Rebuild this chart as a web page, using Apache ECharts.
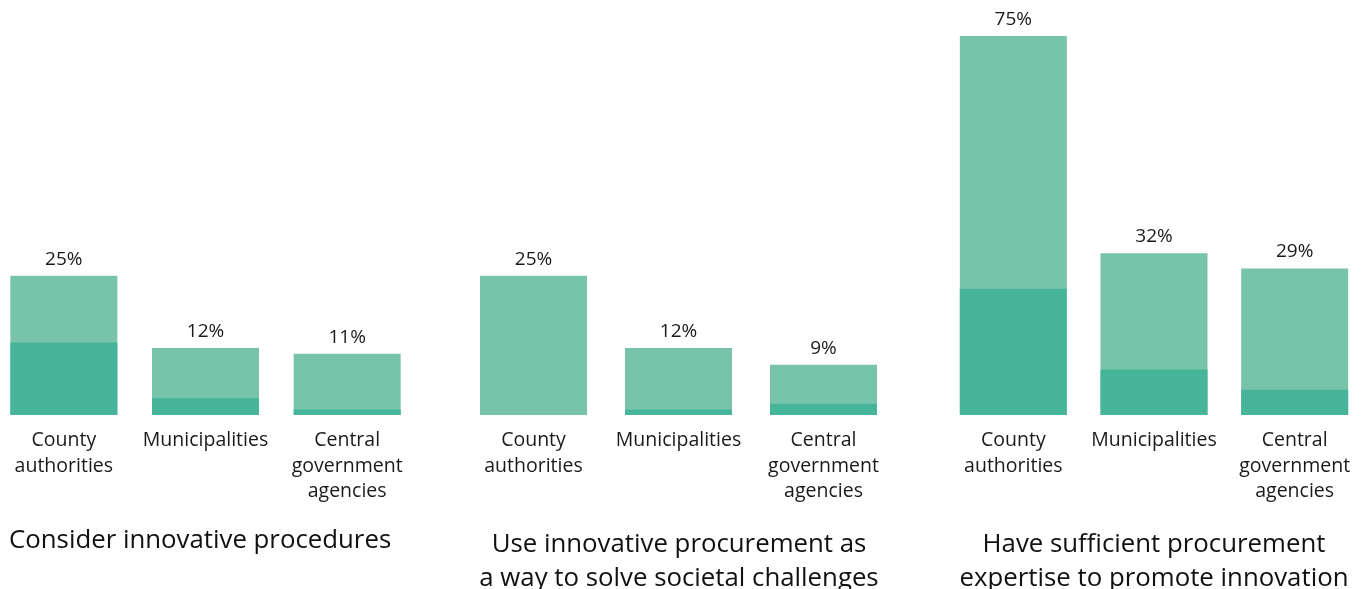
<!DOCTYPE html>
<html>
<head>
<meta charset="utf-8">
<script src="https://cdn.jsdelivr.net/npm/echarts@6/dist/echarts.min.js"></script>
<style>
  html, body { margin: 0; padding: 0; background: #ffffff; }
  #chart { width: 1363px; height: 589px; }
</style>
</head>
<body>
<div id="chart"></div>
<script>
// Respondent groups shown under every panel
const categories = ['County\nauthorities', 'Municipalities', 'Central\ngovernment\nagencies'];

// Panel headings
const panelTitles = [
  'Consider innovative procedures',
  'Use innovative procurement as\na way to solve societal challenges',
  'Have sufficient procurement\nexpertise to promote innovation'
];

// Total share answering yes (%), per panel
const totalConsider = [25, 12, 11];
const totalSocietal = [25, 12, 9];
const totalExpertise = [75, 32, 29];

// Share answering to a large extent (%), per panel
const largeConsider = [13, 3, 1];
const largeSocietal = [0, 1, 2];
const largeExpertise = [25, 9, 5];

const totals = [totalConsider, totalSocietal, totalExpertise];
const larges = [largeConsider, largeSocietal, largeExpertise];
const axisMax = [68, 68, 75];

const LIGHT = '#77c4ab';
const DARK = '#46b599';
const FONT = 'Open Sans';

const gridBoxes = [
  { left: -7, width: 425 },
  { left: 461, width: 435 },
  { left: 943, width: 422 }
];

const grid = gridBoxes.map(b => ({
  left: b.left,
  width: b.width,
  top: 36,
  bottom: 174,
  containLabel: false,
  outerBoundsMode: 'none'
}));

const xAxis = gridBoxes.map((b, i) => ({
  type: 'category',
  gridIndex: i,
  data: categories,
  axisLine: { show: false },
  axisTick: { show: false },
  axisLabel: {
    color: '#1a1a1a',
    fontFamily: FONT,
    fontSize: 19.5,
    lineHeight: 25.5,
    margin: 13,
    interval: 0
  }
}));

const yAxis = gridBoxes.map((b, i) => ({
  type: 'value',
  gridIndex: i,
  min: 0,
  max: axisMax[i],
  show: false,
  splitLine: { show: false }
}));

const series = [];
totals.forEach((vals, i) => {
  series.push({
    type: 'bar',
    xAxisIndex: i,
    yAxisIndex: i,
    data: vals,
    barWidth: 107,
    barGap: '-100%',
    itemStyle: { color: LIGHT },
    label: {
      show: true,
      position: 'top',
      distance: 7,
      formatter: '{c}%',
      color: '#1a1a1a',
      fontFamily: FONT,
      fontSize: 19
    },
    silent: true
  });
  series.push({
    type: 'bar',
    xAxisIndex: i,
    yAxisIndex: i,
    data: larges[i],
    barWidth: 107,
    barGap: '-100%',
    itemStyle: { color: DARK },
    silent: true
  });
});

const titlePos = [
  { x: 9, y: 539, align: 'left' },
  { x: 679, y: 543, align: 'center' },
  { x: 1154, y: 543, align: 'center' }
];

const graphic = panelTitles.map((t, i) => ({
  type: 'text',
  x: titlePos[i].x,
  y: titlePos[i].y - 15,
  style: {
    text: t,
    fill: '#111111',
    font: '25.8px "' + FONT + '"',
    lineHeight: 34,
    align: titlePos[i].align,
    verticalAlign: 'top'
  },
  silent: true
}));

const chart = echarts.init(document.getElementById('chart'), null, { renderer: 'canvas' });
chart.setOption({
  animation: false,
  backgroundColor: '#ffffff',
  grid,
  xAxis,
  yAxis,
  series,
  graphic
});
</script>
</body>
</html>
